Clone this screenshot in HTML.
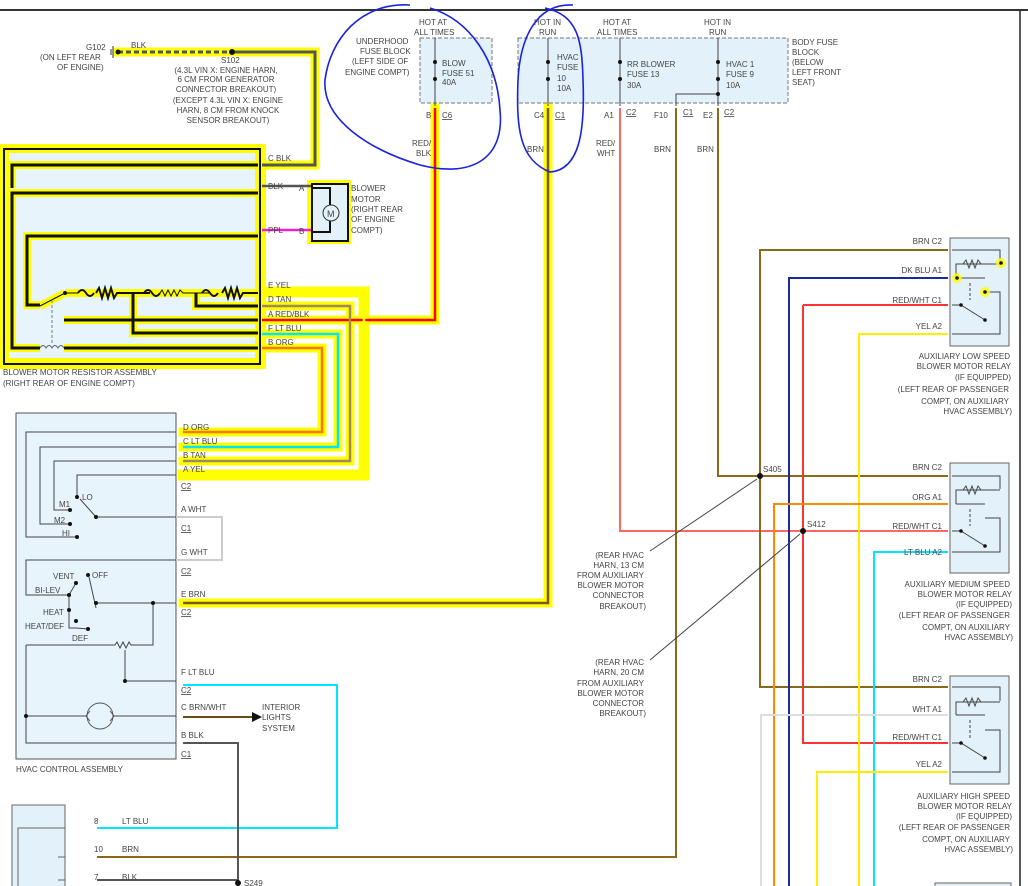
<!DOCTYPE html>
<html><head><meta charset="utf-8"><style>
body{margin:0;background:#fff;}
svg{display:block;font-family:"Liberation Sans",sans-serif;}
text{font-size:8px;fill:#444;}
</style></head><body>
<svg width="1028" height="886" viewBox="0 0 1028 886" xmlns="http://www.w3.org/2000/svg">
<rect x="0" y="9" width="1028" height="2" fill="#333"/>
<line x1="1020" y1="11" x2="1020" y2="886" stroke="#222" stroke-width="1.5"/>

<!-- ===== Yellow highlights ===== -->
<g fill="none" stroke="#ffff00" stroke-linecap="square">
<path d="M118 52 H315 V165 H262" stroke-width="9"/>
<path d="M435 108 V320 H262" stroke-width="9"/>
<path d="M548 108 V603 H183" stroke-width="9"/>
<path d="M262 292 H364 V475 H183" stroke-width="11"/>
<path d="M262 306 H350 V461 H183" stroke-width="9"/>
<path d="M262 334 H338 V447 H183" stroke-width="9"/>
<path d="M262 348 H322 V432 H183" stroke-width="9"/>
</g>
<rect x="307" y="180" width="44" height="64" fill="#ffff00"/>
<rect x="0" y="144" width="266" height="225" fill="#ffff00"/>
<rect x="6" y="150" width="254" height="213" fill="#e8f4fc"/>

<!-- resistor assembly internals: yellow glow -->
<g fill="none" stroke="#ffff00" stroke-width="8">
<path d="M258 165 H12 V188"/>
<path d="M258 193 H12 V348 H40"/>
<path d="M64 348 H258"/>
<path d="M258 236 H27 V305 H40"/>
<path d="M64 320 H258"/>
<path d="M133 293 V333 H258"/>
<path d="M196 293 V306 H258"/>
<path d="M65 293 H258"/>
<path d="M40 306 L65 293"/>
</g>
<rect x="6" y="150" width="252" height="211" fill="none" stroke="#ffff00" stroke-width="6"/>
<g fill="none" stroke="#111" stroke-width="2">
<rect x="4" y="149" width="256" height="215" stroke-width="2" stroke="#111"/>
<path d="M258 165 H12 V188" stroke-width="3"/>
<path d="M258 193 H12 V348 H40" stroke-width="3"/>
<path d="M64 348 H258" stroke-width="3"/>
<path d="M258 236 H27 V305 H40" stroke-width="3"/>
<path d="M64 320 H258" stroke-width="3"/>
<path d="M133 293 V333 H258" stroke-width="3"/>
<path d="M196 293 V306 H258" stroke-width="3"/>
<path d="M65 293 H78" stroke-width="1"/>
<path d="M78 293 q4 -6 8 0 t8 0" stroke-width="2"/>
<path d="M96 293 l3 -5 l3 10 l3 -10 l3 10 l3 -10 l3 10 l3 -5 H150" stroke-width="2"/>
<path d="M144 293 q4 -6 8 0 t8 0" stroke-width="2"/>
<path d="M160 293 l2 -3 l3 6 l3 -6 l3 6 l3 -6 l3 6 l3 -6 l3 3 H210" stroke-width="1"/>
<path d="M202 293 q4 -6 8 0 t8 0" stroke-width="2"/>
<path d="M222 293 l3 -5 l3 10 l3 -10 l3 10 l3 -10 l3 10 l3 -5 H258" stroke-width="2"/>
<path d="M40 306 L65 293" stroke-width="1"/>
<path d="M52 300 V345" stroke="#777" stroke-width="1" stroke-dasharray="3,2"/>
<path d="M40 348 q3 -5 6 0 q3 -5 6 0 q3 -5 6 0 q3 -5 6 0" stroke="#666" stroke-width="1"/>
</g>
<circle cx="65" cy="293" r="2" fill="#111"/>
<text x="3" y="375">BLOWER MOTOR RESISTOR ASSEMBLY</text>
<text x="3" y="386">(RIGHT REAR OF ENGINE COMPT)</text>

<!-- ground / S102 -->
<path d="M118 52 H232" stroke="#555" stroke-width="3" stroke-dasharray="5,3"/>
<path d="M232 52 H315 V165 H262" stroke="#555" stroke-width="3" fill="none"/>
<circle cx="232" cy="52" r="3" fill="#111"/>
<line x1="113" y1="46" x2="113" y2="58" stroke="#333"/><line x1="111" y1="49" x2="111" y2="55" stroke="#333"/>
<circle cx="118" cy="52" r="2.5" fill="#111"/>
<text x="86" y="50">G102</text>
<text x="40" y="60">(ON LEFT REAR</text>
<text x="57" y="70">OF ENGINE)</text>
<text x="131" y="48">BLK</text>
<text x="221" y="63">S102</text>
<g text-anchor="middle">
<text x="226" y="73">(4.3L VIN X: ENGINE HARN,</text>
<text x="226" y="82">6 CM FROM GENERATOR</text>
<text x="226" y="92">CONNECTOR BREAKOUT)</text>
<text x="228" y="103">(EXCEPT 4.3L VIN X: ENGINE</text>
<text x="228" y="113">HARN, 8 CM FROM KNOCK</text>
<text x="228" y="123">SENSOR BREAKOUT)</text>
</g>

<!-- colored wires left -->
<g fill="none" stroke-width="2.5">
<path d="M262 186 H312" stroke="#555"/>
<path d="M262 230 H312" stroke="#ee22cc"/>
<path d="M435 108 V320 H262" stroke="#ff0000"/>
<path d="M548 108 V603 H183" stroke="#7a5a1a"/>
<path d="M262 292 H364 V475 H183" stroke="#ffff00"/>
<path d="M262 306 H350 V461 H183" stroke="#a08860"/>
<path d="M262 334 H338 V447 H183" stroke="#00e5ff"/>
<path d="M262 348 H322 V432 H183" stroke="#ff7700"/>
</g>
<g>
<text x="268" y="161">C  BLK</text><text x="268" y="189">BLK</text><text x="299" y="191">A</text>
<text x="268" y="233">PPL</text><text x="299" y="234">B</text>
<text x="268" y="288">E  YEL</text><text x="268" y="302">D  TAN</text>
<text x="268" y="317">A   RED/BLK</text><text x="268" y="331">F  LT BLU</text><text x="268" y="345">B  ORG</text>
</g>
<!-- motor -->
<rect x="312" y="184" width="36" height="57" fill="#e3f1fa" stroke="#111" stroke-width="2"/>
<path d="M312 188 H330 V232 H312" fill="none" stroke="#111" stroke-width="2"/>
<circle cx="331" cy="213" r="8" fill="#e3f1fa" stroke="#333"/>
<text x="327" y="217" style="font-size:9px">M</text>
<text x="351" y="191">BLOWER</text><text x="351" y="202">MOTOR</text><text x="351" y="212">(RIGHT REAR</text>
<text x="351" y="222">OF ENGINE</text><text x="351" y="233">COMPT)</text>

<!-- fuse blocks -->
<rect x="420" y="38" width="72" height="65" fill="#e3f1fa" stroke="#777" stroke-dasharray="4,2"/>
<rect x="518" y="38" width="270" height="65" fill="#e3f1fa" stroke="#777" stroke-dasharray="4,2"/>
<g stroke="#444" fill="none">
<path d="M435 38 V106"/><path d="M548 38 V106"/><path d="M620 38 V106"/><path d="M718 38 V106"/>
<path d="M718 94 H676 V106"/>
</g>
<g fill="#111"><circle cx="435" cy="62" r="2"/><circle cx="435" cy="79" r="2"/><circle cx="548" cy="62" r="2"/><circle cx="548" cy="79" r="2"/>
<circle cx="620" cy="62" r="2"/><circle cx="620" cy="79" r="2"/><circle cx="718" cy="62" r="2"/><circle cx="718" cy="79" r="2"/><circle cx="718" cy="94" r="2"/></g>
<text x="419" y="25">HOT AT</text><text x="414" y="35">ALL TIMES</text>
<text x="356" y="44">UNDERHOOD</text><text x="360" y="54">FUSE BLOCK</text><text x="352" y="64">(LEFT SIDE OF</text><text x="345" y="75">ENGINE COMPT)</text>
<text x="442" y="66">BLOW</text><text x="442" y="76">FUSE 51</text><text x="442" y="85">40A</text>
<text x="534" y="25">HOT IN</text><text x="539" y="35">RUN</text>
<text x="603" y="25">HOT AT</text><text x="597" y="35">ALL TIMES</text>
<text x="704" y="25">HOT IN</text><text x="709" y="35">RUN</text>
<text x="557" y="60">HVAC</text><text x="557" y="70">FUSE</text><text x="557" y="81">10</text><text x="557" y="91">10A</text>
<text x="627" y="67">RR BLOWER</text><text x="627" y="77">FUSE 13</text><text x="627" y="88">30A</text>
<text x="726" y="67">HVAC 1</text><text x="726" y="77">FUSE 9</text><text x="726" y="88">10A</text>
<text x="792" y="45">BODY FUSE</text><text x="792" y="55">BLOCK</text><text x="792" y="65">(BELOW</text><text x="792" y="75">LEFT FRONT</text><text x="792" y="85">SEAT)</text>
<text x="426" y="118">B</text><text x="442" y="118" text-decoration="underline">C6</text>
<text x="534" y="118">C4</text><text x="555" y="118" text-decoration="underline">C1</text>
<text x="604" y="118">A1</text><text x="626" y="115" text-decoration="underline">C2</text>
<text x="654" y="118">F10</text><text x="683" y="115" text-decoration="underline">C1</text>
<text x="703" y="118">E2</text><text x="724" y="115" text-decoration="underline">C2</text>
<text x="412" y="146">RED/</text><text x="416" y="156">BLK</text>
<text x="527" y="152">BRN</text><text x="596" y="146">RED/</text><text x="597" y="156">WHT</text>
<text x="654" y="152">BRN</text><text x="697" y="152">BRN</text>

<!-- right side wiring -->
<g fill="none" stroke-width="2">
<path d="M620 108 V531 H948" stroke="#ff6666"/>
<path d="M803 305 H948 M803 305 V743 H948" stroke="#ff3333"/>
<path d="M676 108 V857 H97" stroke="#8a6a1a"/>
<path d="M718 108 V476 H948" stroke="#8a6a1a"/>
<path d="M948 250 H760 V687 H948" stroke="#8a6a1a"/>
<path d="M948 278 H789 V886" stroke="#1a2a99"/>
<path d="M948 334 H859 V886" stroke="#ffee00"/>
<path d="M948 504 H774 V886" stroke="#ff8800"/>
<path d="M948 552 H874 V886" stroke="#00e5ff"/>
<path d="M948 715 H761 V886" stroke="#dddddd"/>
<path d="M948 772 H817 V886" stroke="#ffee00"/>
<path d="M183 685 H337 V828 H97" stroke="#00e5ff"/>
<path d="M183 743 H238 V886" stroke="#555"/>
<path d="M97 880 H238" stroke="#555"/>
<path d="M183 717 H255" stroke="#6a4a10"/>
</g>
<path d="M252 712 L262 717 L252 722Z" fill="#111"/>
<circle cx="760" cy="476" r="3" fill="#111"/><circle cx="803" cy="531" r="3" fill="#111"/><circle cx="238" cy="883" r="3" fill="#111"/>
<text x="763" y="472">S405</text><text x="807" y="527">S412</text><text x="244" y="886">S249</text>
<path d="M650 551 L757 479 M650 660 L800 534" stroke="#444"/>
<g text-anchor="end">
<text x="644" y="558">(REAR HVAC</text><text x="644" y="568">HARN, 13 CM</text><text x="644" y="578">FROM AUXILIARY</text><text x="644" y="588">BLOWER MOTOR</text><text x="644" y="598">CONNECTOR</text><text x="646" y="609">BREAKOUT)</text>
<text x="644" y="665">(REAR HVAC</text><text x="644" y="675">HARN, 20 CM</text><text x="644" y="686">FROM AUXILIARY</text><text x="644" y="696">BLOWER MOTOR</text><text x="644" y="706">CONNECTOR</text><text x="646" y="716">BREAKOUT)</text>
</g>

<!-- relays -->
<g>
<rect x="950" y="238" width="59" height="108" fill="#e3f1fa" stroke="#666"/>
<rect x="950" y="463" width="59" height="110" fill="#e3f1fa" stroke="#666"/>
<rect x="950" y="676" width="59" height="108" fill="#e3f1fa" stroke="#666"/>
<rect x="935" y="883" width="76" height="5" fill="#e3f1fa" stroke="#666"/>
</g>
<g fill="none" stroke="#444">
<path d="M952 250 H1000 V263 M956 278 V264 H1000"/><path d="M963 264 l3 -4 l3 8 l3 -8 l3 8 l3 -8 l3 4"/>
<path d="M956 278 H985"/><path d="M970 283 V300" stroke-dasharray="3,2"/><path d="M952 305 H961 L985 320"/><path d="M985 292 H1000 V334 H952"/>
<path d="M952 476 H1000 V489 M956 504 V490 H1000"/><path d="M963 490 l3 -4 l3 8 l3 -8 l3 8 l3 -8 l3 4"/>
<path d="M956 504 H985"/><path d="M970 509 V526" stroke-dasharray="3,2"/><path d="M952 531 H961 L985 546"/><path d="M985 518 H1000 V552 H952"/>
<path d="M952 687 H1000 V701 M956 715 V702 H1000"/><path d="M963 702 l3 -4 l3 8 l3 -8 l3 8 l3 -8 l3 4"/>
<path d="M956 715 H985"/><path d="M970 720 V738" stroke-dasharray="3,2"/><path d="M952 743 H961 L985 758"/><path d="M985 730 H1000 V772 H952"/>
</g>
<circle cx="957" cy="278" r="5" fill="#ffff00" opacity=".8"/><circle cx="1001" cy="263" r="5" fill="#ffff00" opacity=".8"/><circle cx="985" cy="292" r="5" fill="#ffff00" opacity=".8"/>
<g fill="#111"><circle cx="957" cy="278" r="1.8"/><circle cx="1001" cy="263" r="1.8"/><circle cx="985" cy="292" r="1.8"/><circle cx="961" cy="305" r="1.8"/><circle cx="985" cy="320" r="1.8"/>
<circle cx="961" cy="531" r="1.8"/><circle cx="985" cy="546" r="1.8"/><circle cx="961" cy="743" r="1.8"/><circle cx="985" cy="758" r="1.8"/></g>
<g text-anchor="end">
<text x="942" y="244">BRN  C2</text><text x="942" y="273">DK BLU  A1</text><text x="942" y="303">RED/WHT  C1</text><text x="942" y="329">YEL   A2</text>
<text x="1010" y="359">AUXILIARY LOW SPEED</text><text x="1011" y="369">BLOWER MOTOR RELAY</text><text x="1011" y="380">(IF EQUIPPED)</text>
<text x="1009" y="392">(LEFT REAR OF PASSENGER</text><text x="1009" y="404">COMPT, ON AUXILIARY</text><text x="1012" y="414">HVAC ASSEMBLY)</text>
<text x="942" y="470">BRN  C2</text><text x="942" y="500">ORG  A1</text><text x="942" y="529">RED/WHT  C1</text><text x="942" y="555">LT BLU  A2</text>
<text x="1010" y="587">AUXILIARY MEDIUM SPEED</text><text x="1012" y="597">BLOWER MOTOR RELAY</text><text x="1012" y="607">(IF EQUIPPED)</text>
<text x="1010" y="618">(LEFT REAR OF PASSENGER</text><text x="1010" y="630">COMPT, ON AUXILIARY</text><text x="1013" y="640">HVAC ASSEMBLY)</text>
<text x="942" y="682">BRN  C2</text><text x="942" y="712">WHT  A1</text><text x="942" y="740">RED/WHT  C1</text><text x="942" y="767">YEL   A2</text>
<text x="1010" y="799">AUXILIARY HIGH SPEED</text><text x="1012" y="809">BLOWER MOTOR RELAY</text><text x="1012" y="819">(IF EQUIPPED)</text>
<text x="1010" y="830">(LEFT REAR OF PASSENGER</text><text x="1010" y="842">COMPT, ON AUXILIARY</text><text x="1013" y="852">HVAC ASSEMBLY)</text>
</g>

<!-- HVAC control -->
<rect x="16" y="413" width="160" height="346" fill="#e8f4fc" stroke="#555"/>
<g fill="none" stroke="#444">
<path d="M176 432 H26 V537 H77"/><path d="M176 447 H40 V524 H70"/><path d="M176 461 H54 V510 H70"/><path d="M176 475 H77 V497"/>
<path d="M80 499 L96 517 H176"/>
<path d="M176 560 H26 V595 H69 L76 583"/><path d="M69 595 V628 L76 628 L88 629"/><path d="M69 610 V625" />
<path d="M96 608 L89 577"/><path d="M96 603 H176"/><path d="M153 603 V645 H137"/>
<path d="M26 645 H115 l2 -3 l3 6 l3 -6 l3 6 l3 -6 l2 3 H137"/><path d="M125 650 V681 H176"/>
<path d="M26 645 V743 H176"/><path d="M26 716 H176"/>
<path d="M176 517 H222 V560 H176" stroke="#ccc" stroke-width="2"/>
</g>
<circle cx="100" cy="716" r="13" fill="#e8f4fc" stroke="#555"/>
<path d="M86 716 l4 -5 M86 716 l4 5 M114 716 l-4 -5 M114 716 l-4 5" stroke="#555"/>
<g fill="#111"><circle cx="77" cy="497" r="2"/><circle cx="70" cy="510" r="2"/><circle cx="70" cy="524" r="2"/><circle cx="77" cy="537" r="2"/><circle cx="96" cy="517" r="2"/>
<circle cx="76" cy="583" r="2"/><circle cx="88" cy="575" r="2"/><circle cx="69" cy="595" r="2"/><circle cx="69" cy="610" r="2"/><circle cx="76" cy="621" r="2"/><circle cx="88" cy="629" r="2"/><circle cx="96" cy="603" r="2"/>
<circle cx="153" cy="603" r="2"/><circle cx="125" cy="681" r="2"/><circle cx="26" cy="716" r="2"/></g>
<g>
<text x="82" y="500">LO</text><text x="59" y="507">M1</text><text x="54" y="523">M2</text><text x="62" y="536">HI</text>
<text x="53" y="579">VENT</text><text x="92" y="578">OFF</text><text x="35" y="593">BI-LEV</text><text x="43" y="615">HEAT</text>
<text x="25" y="629">HEAT/DEF</text><text x="72" y="641">DEF</text>
<text x="183" y="430">D  ORG</text><text x="183" y="444">C  LT BLU</text><text x="183" y="458">B   TAN</text><text x="183" y="472">A   YEL</text>
<text x="181" y="489" text-decoration="underline">C2</text>
<text x="181" y="512">A   WHT</text><text x="181" y="531" text-decoration="underline">C1</text>
<text x="181" y="555">G   WHT</text><text x="181" y="574" text-decoration="underline">C2</text>
<text x="181" y="597">E   BRN</text><text x="181" y="615" text-decoration="underline">C2</text>
<text x="181" y="675">F      LT BLU</text><text x="181" y="693" text-decoration="underline">C2</text>
<text x="181" y="710">C   BRN/WHT</text><text x="181" y="738">B   BLK</text><text x="181" y="757" text-decoration="underline">C1</text>
<text x="262" y="710">INTERIOR</text><text x="262" y="720">LIGHTS</text><text x="262" y="731">SYSTEM</text>
<text x="16" y="772">HVAC CONTROL ASSEMBLY</text>
</g>

<!-- bottom module -->
<rect x="12" y="805" width="53" height="90" fill="#e3f1fa" stroke="#666"/>
<path d="M65 828 H18 V886 M65 857 H58 M65 880 H58" fill="none" stroke="#666"/>
<text x="94" y="824">8</text><text x="122" y="824">LT BLU</text>
<text x="94" y="852">10</text><text x="122" y="852">BRN</text>
<text x="94" y="880">7</text><text x="122" y="880">BLK</text>

<!-- blue hand-drawn circles -->
<g fill="none" stroke="#1a22dd" stroke-width="1.6">
<path d="M410 5 C360 2 330 40 325 80 C322 120 370 150 420 165 C470 178 505 160 500 110 C497 60 470 20 430 8"/>
<path d="M573 5 C535 3 520 40 518 80 C516 130 520 160 550 172 C580 170 585 130 583 80 C582 40 578 15 545 8"/>
</g>
</svg>
</body></html>
